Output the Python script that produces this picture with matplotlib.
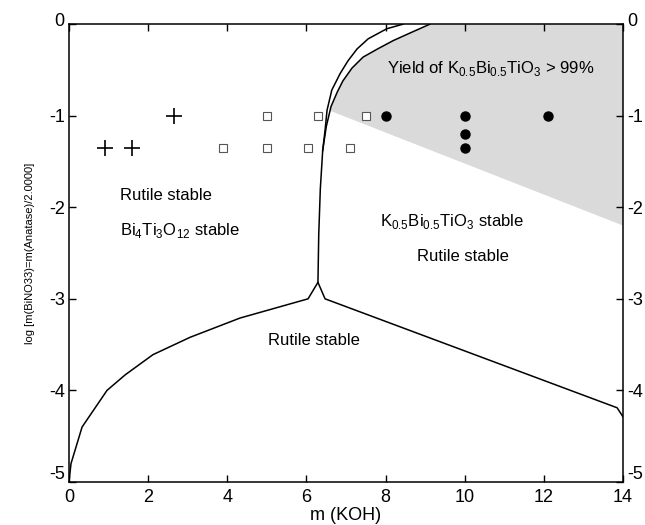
import numpy as np
import matplotlib
matplotlib.use('Agg')
import matplotlib.pyplot as plt
import matplotlib.transforms as mtransforms

plt.rcParams['font.family'] = ['Liberation Sans', 'DejaVu Sans']
plt.rcParams['mathtext.fontset'] = 'custom'
plt.rcParams['mathtext.rm'] = 'Liberation Sans'
plt.rcParams['axes.unicode_minus'] = False

# lower boundary (rutile / soluble)
low_x = [0.0, 0.05, 0.33, 0.96, 1.42, 2.12, 3.06, 4.32, 6.04, 6.29, 6.47, 13.85, 14.0]
low_y = [-5.0, -4.8, -4.40, -4.0, -3.83, -3.61, -3.42, -3.21, -3.0, -2.82, -3.0, -4.19, -4.29]

# vertical boundary, inner branch
inner_x = [6.29, 6.31, 6.35, 6.41, 6.47, 6.52, 6.64, 6.85, 7.05, 7.28, 7.56, 8.03, 8.44]
inner_y = [-2.82, -2.3, -1.8, -1.38, -1.16, -0.94, -0.72, -0.54, -0.40, -0.27, -0.16, -0.05, 0.0]

# vertical boundary, outer branch
outer_x = [6.41, 6.50, 6.62, 6.78, 6.92, 7.15, 7.43, 7.80, 8.19, 8.60, 9.12]
outer_y = [-1.38, -1.12, -0.90, -0.74, -0.62, -0.48, -0.36, -0.27, -0.18, -0.10, 0.0]

# yield > 99 % region lower edge
edge_x = [6.62, 14.0]
edge_y = [-0.95, -2.2]

plus_x = [0.9, 1.6, 2.65]
plus_y = [-1.35, -1.35, -1.0]
sq_x = [3.9, 5.0, 6.05, 7.1, 5.0, 6.3, 7.5]
sq_y = [-1.35, -1.35, -1.35, -1.35, -1.0, -1.0, -1.0]
dot_x = [8.0, 10.0, 10.0, 10.0, 12.1]
dot_y = [-1.0, -1.0, -1.2, -1.35, -1.0]

fig = plt.figure(figsize=(6.45, 5.25), dpi=100)
ax = fig.add_axes([0.107, 0.082, 0.859, 0.872])

# shaded region: between outer branch, top, right axis and edge line
poly_x = list(outer_x[2:]) + [14.0, 14.0] + [edge_x[0]]
poly_y = list(outer_y[2:]) + [0.0, edge_y[1]] + [edge_y[0]]
ax.fill(poly_x, poly_y, facecolor='#dadada', edgecolor='none', zorder=1)

ax.plot(low_x, low_y, color='black', lw=1.1, zorder=3)
ax.plot(inner_x, inner_y, color='black', lw=1.1, zorder=3)
ax.plot(outer_x, outer_y, color='black', lw=1.1, zorder=3)

ax.plot(plus_x, plus_y, '+', color='black', ms=11, mew=1.2, ls='none', zorder=4)
ax.plot(sq_x, sq_y, 's', mfc='white', mec='#555555', ms=6, mew=0.8, ls='none', zorder=4)
ax.plot(dot_x, dot_y, 'o', color='black', ms=6.5, ls='none', zorder=4)

fs = 12
ax.text(1.29, -1.87, 'Rutile stable', fontsize=fs, va='center', ha='left')
ax.text(1.29, -2.25, r'Bi$_4$Ti$_3$O$_{12}$ stable', fontsize=fs, va='center', ha='left')
ax.text(7.86, -2.16, r'K$_{0.5}$Bi$_{0.5}$TiO$_3$ stable', fontsize=fs, va='center', ha='left')
ax.text(9.96, -2.54, 'Rutile stable', fontsize=fs, va='center', ha='center')
ax.text(6.2, -3.45, 'Rutile stable', fontsize=fs, va='center', ha='center')
ax.text(8.04, -0.48, r'Yield of K$_{0.5}$Bi$_{0.5}$TiO$_3$ > 99%', fontsize=fs, va='center', ha='left')

ax.set_xlim(0, 14)
ax.set_ylim(-5, 0)
ax.set_xticks([0, 2, 4, 6, 8, 10, 12, 14])
ax.set_yticks([0, -1, -2, -3, -4, -5])
ax.tick_params(direction='in', top=True, right=True, labelright=True,
               labelsize=13, length=5, width=1, pad=3)
ax.tick_params(axis='x', pad=5)
ax.set_xlabel('m (KOH)', fontsize=13, labelpad=1)
ax.set_ylabel('log [m(BiNO33)=m(Anatase)/2.0000]', fontsize=8, labelpad=10)
for s in ax.spines.values():
    s.set_linewidth(1.1)

# end labels sit a little off their ticks, as in the original
fig.canvas.draw()
for tick in ax.yaxis.get_major_ticks():
    val = tick.get_loc()
    if val == -5:
        dy = 9
    elif val == 0:
        dy = 5
    else:
        continue
    for lab in (tick.label1, tick.label2):
        lab.set_transform(lab.get_transform() + mtransforms.ScaledTranslation(0, dy / 100, fig.dpi_scale_trans))

fig.savefig('out.png', dpi=100)
